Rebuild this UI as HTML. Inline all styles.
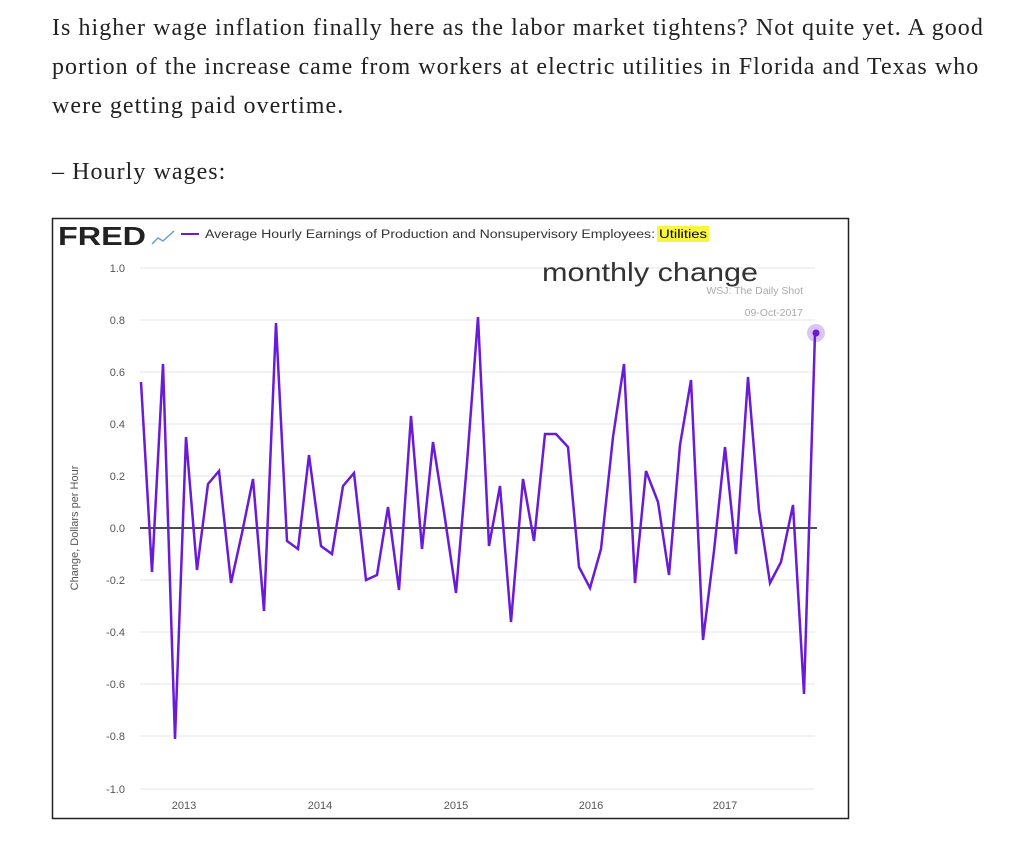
<!DOCTYPE html>
<html><head><meta charset="utf-8"><style>
body{margin:0;background:#fff;width:1024px;height:842px;overflow:hidden;font-family:"Liberation Serif",serif;}
.p{position:absolute;left:52px;font-size:24px;color:#222;line-height:39px;letter-spacing:1.05px;white-space:nowrap}
</style></head><body>
<div class="p" style="top:9px">Is higher wage inflation finally here as the labor market tightens? Not quite yet. A good<br>portion of the increase came from workers at electric utilities in Florida and Texas who<br>were getting paid overtime.</div>
<div class="p" style="top:153px">– Hourly wages:</div>
<svg style="position:absolute;left:0;top:0" width="1024" height="842" font-family="Liberation Sans, sans-serif">
<rect x="52.5" y="218.5" width="796" height="600" fill="#fff" stroke="#222" stroke-width="1.5"/>
<text x="58" y="245" font-size="26" font-weight="bold" fill="#222" textLength="88" lengthAdjust="spacingAndGlyphs">FRED</text>
<path d="M152 244 L158 238 L163 241 L174 231" stroke="#6aa0c8" stroke-width="1.5" fill="none"/>
<line x1="181" y1="234" x2="199" y2="234" stroke="#6a1bd6" stroke-width="2"/>
<text x="205" y="238" font-size="11.5" fill="#333" textLength="450" lengthAdjust="spacingAndGlyphs">Average Hourly Earnings of Production and Nonsupervisory Employees:</text>
<rect x="657" y="226" width="52" height="16" fill="#f5f000" opacity="0.75"/>
<text x="659" y="238" font-size="11.5" fill="#000" textLength="48" lengthAdjust="spacingAndGlyphs">Utilities</text>
<g stroke="#e6e6e6" stroke-width="1">
<line x1="140" y1="268" x2="815" y2="268"/><line x1="140" y1="320" x2="815" y2="320"/><line x1="140" y1="372" x2="815" y2="372"/><line x1="140" y1="424" x2="815" y2="424"/><line x1="140" y1="476" x2="815" y2="476"/><line x1="140" y1="580" x2="815" y2="580"/><line x1="140" y1="632" x2="815" y2="632"/><line x1="140" y1="684" x2="815" y2="684"/><line x1="140" y1="736" x2="815" y2="736"/><line x1="140" y1="789" x2="815" y2="789"/>
</g>
<g font-size="11" fill="#555" text-anchor="end">
<text x="125" y="272">1.0</text><text x="125" y="324">0.8</text><text x="125" y="376">0.6</text><text x="125" y="428">0.4</text><text x="125" y="480">0.2</text><text x="125" y="532">0.0</text><text x="125" y="584">-0.2</text><text x="125" y="636">-0.4</text><text x="125" y="688">-0.6</text><text x="125" y="740">-0.8</text><text x="125" y="793">-1.0</text>
</g>
<g font-size="11" fill="#555" text-anchor="middle">
<text x="184" y="809">2013</text><text x="320" y="809">2014</text><text x="456" y="809">2015</text><text x="591" y="809">2016</text><text x="725" y="809">2017</text>
</g>
<text transform="translate(78,528) rotate(-90)" font-size="11" fill="#555" text-anchor="middle">Change, Dollars per Hour</text>
<text x="803" y="294" font-size="10.5" fill="#aaa" text-anchor="end">WSJ: The Daily Shot</text>
<text x="803" y="316" font-size="10.5" fill="#aaa" text-anchor="end">09-Oct-2017</text>
<text x="542" y="281" font-size="26" fill="#333" textLength="216" lengthAdjust="spacingAndGlyphs">monthly change</text>
<line x1="140" y1="528" x2="817" y2="528" stroke="#111" stroke-width="1.5"/>
<polyline fill="none" stroke="#6a1bd6" stroke-width="2.5" points="141,382 152,572 163,364 175,739 186,437 197,570 208,484 219,471 231,583 242,533 253,479 264,611 276,323 287,541 298,549 309,455 321,546 332,554 343,486 354,473 366,580 377,575 388,507 399,590 411,416 422,549 433,442 444,512 456,593 467,463 478,317 489,546 500,486 511,622 523,479 534,541 545,434 556,434 568,447 579,567 590,588 601,549 613,437 624,364 635,583 646,471 658,502 669,575 680,445 691,380 703,640 714,551 725,447 736,554 748,377 759,510 770,583 781,562 793,505 804,694 815,333"/>
<circle cx="816" cy="333" r="9" fill="#6a1bd6" opacity="0.25"/>
<circle cx="816" cy="333" r="3.5" fill="#6a1bd6"/>
</svg>
</body></html>
